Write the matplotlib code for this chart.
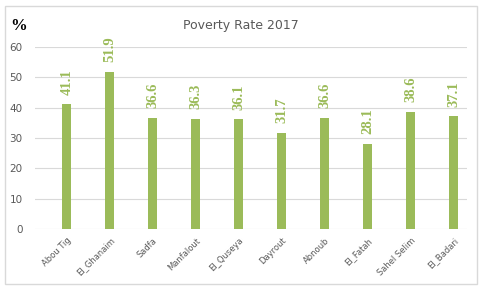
import matplotlib
matplotlib.use("Agg")
import matplotlib.pyplot as plt
from matplotlib.patches import Rectangle

plt.rcParams["font.serif"] = ["Liberation Serif", "DejaVu Serif"]

# ----------------------------------------------------------------------
# data
# ----------------------------------------------------------------------
districts = ["Abou Tig", "El_Ghanaim", "Sadfa", "Manfalout", "El_Quseya",
             "Dayrout", "Abnoub", "El_Fatah", "Sahel Selim", "El_Badari"]
poverty_rate = [41.1, 51.9, 36.6, 36.3, 36.1, 31.7, 36.6, 28.1, 38.6, 37.1]
y_ticks = [0, 10, 20, 30, 40, 50, 60]

BAR_COLOR = "#9BBB59"
TEXT_GRAY = "#595959"

W, H = 480, 288
fig = plt.figure(figsize=(W / 100, H / 100), dpi=100)

# plot area in pixel coords: x 35..467, y 47 (60) .. 229 (0)
left, right, top, bottom = 35, 467, 47, 229
ax = fig.add_axes([left / W, 1 - bottom / H, (right - left) / W, (bottom - top) / H])

x = list(range(len(districts)))
ax.bar(x, poverty_rate, width=0.21, color=BAR_COLOR, zorder=3)

for xi, v in zip(x, poverty_rate):
    ax.annotate(f"{v:.1f}", (xi, v), xytext=(0, 7), textcoords="offset points",
                rotation=90, ha="center", va="bottom", color=BAR_COLOR,
                fontsize=10.5, fontweight="bold", family="serif")

ax.set_xlim(-0.74, 9.31)
ax.set_ylim(0, 60)
ax.set_yticks(y_ticks)
ax.set_yticklabels([str(t) for t in y_ticks], color=TEXT_GRAY, fontsize=7.5)
ax.set_xticks(x)
ax.set_xticklabels(districts, rotation=45, ha="right", rotation_mode="anchor",
                   color=TEXT_GRAY, fontsize=6)
ax.tick_params(axis="both", length=0)
ax.tick_params(axis="y", pad=9)
ax.tick_params(axis="x", pad=5)
ax.grid(axis="y", color="#D9D9D9", linewidth=0.8, zorder=0)
for s in ax.spines.values():
    s.set_visible(False)
ax.set_facecolor("none")

fig.text(241 / W, 1 - 25 / H, "Poverty Rate 2017", ha="center", va="center",
         fontsize=9, color=TEXT_GRAY)
fig.text(19 / W, 1 - 26 / H, "%", ha="center", va="center", fontsize=12,
         fontweight="bold", family="serif", color="black")

# chart border
fig.patches.append(Rectangle((5 / W, 1 - 284 / H), 472 / W, 278 / H,
                             transform=fig.transFigure, fill=False,
                             edgecolor="#D9D9D9", linewidth=1))

fig.savefig("out.png", dpi=100)
